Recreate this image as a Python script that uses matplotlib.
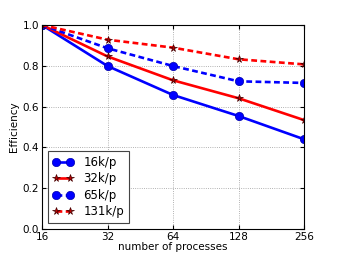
import matplotlib
matplotlib.use("Agg")
import matplotlib.pyplot as plt
from matplotlib.ticker import FixedLocator, FixedFormatter, NullLocator

procs = [16, 32, 64, 128, 256]
tick_labels = ["16", "32", "64", "128", "256"]
eff_16k = [1.0, 0.799, 0.657, 0.554, 0.440]
eff_32k = [1.0, 0.846, 0.729, 0.641, 0.534]
eff_65k = [1.0, 0.886, 0.799, 0.724, 0.716]
eff_131k = [1.0, 0.928, 0.889, 0.832, 0.807]

fig = plt.figure(figsize=(3.38, 2.54), dpi=100)
ax = fig.add_axes([42/338, 1 - 229/254, (304-42)/338, (229-25)/254])

dash = (2.2, 1.3)
ax.plot(procs, eff_16k, '-', color='#0000ff', lw=1.9, marker='o', ms=6,
        mfc='#0000ff', mec='#0000aa', mew=0.5, label='16k/p')
ax.plot(procs, eff_32k, '-', color='#ff0000', lw=1.9, marker='*', ms=5.5,
        mfc='#bb0000', mec='#440000', mew=0.5, label='32k/p')
ax.plot(procs, eff_65k, '--', color='#0000ff', lw=1.9, marker='o', ms=6,
        mfc='#0000ff', mec='#0000aa', mew=0.5, label='65k/p', dashes=dash)
ax.plot(procs, eff_131k, '--', color='#ff0000', lw=1.9, marker='*', ms=5.5,
        mfc='#bb0000', mec='#440000', mew=0.5, label='131k/p', dashes=dash)

ax.set_xscale('log', base=2)
ax.set_xlim(16, 256)
ax.set_ylim(0, 1.0)
ax.xaxis.set_major_locator(FixedLocator(procs))
ax.xaxis.set_major_formatter(FixedFormatter(tick_labels))
ax.xaxis.set_minor_locator(NullLocator())
ax.set_yticks([0.0, 0.2, 0.4, 0.6, 0.8, 1.0])
ax.set_yticklabels(["0.0", "0.2", "0.4", "0.6", "0.8", "1.0"])
ax.tick_params(labelsize=7.5, direction='in', length=3, pad=2, top=True, right=True)
ax.grid(True, color='#999999', linestyle=':', linewidth=0.6)
for s in ax.spines.values():
    s.set_linewidth(0.8)
ax.set_xlabel('number of processes', fontsize=7.5, labelpad=0)
ax.set_ylabel('Efficiency', fontsize=7.5, labelpad=3)

leg = ax.legend(loc='lower left', fontsize=8.5, fancybox=False, framealpha=1,
                edgecolor='#444444', borderpad=0.4, labelspacing=0.3,
                handlelength=1.8, handletextpad=0.8, numpoints=2,
                borderaxespad=0.5)
leg.get_frame().set_linewidth(0.8)

fig.savefig('out.png', dpi=100)
